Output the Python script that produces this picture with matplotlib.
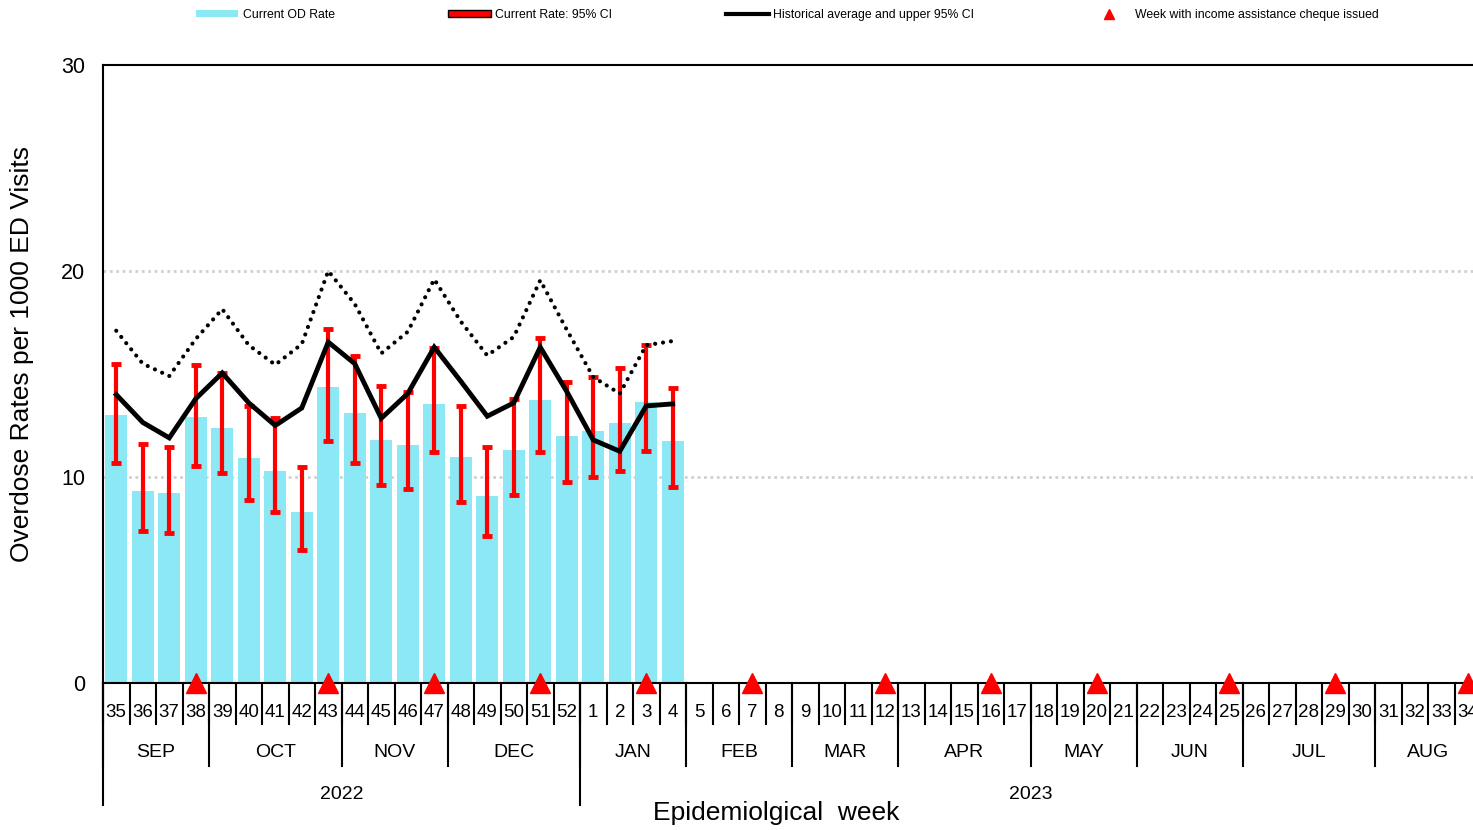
import numpy as np
import matplotlib
matplotlib.use('Agg')
from matplotlib import pyplot as plt
from matplotlib.patches import Patch
from matplotlib.lines import Line2D

plt.rcParams['font.family'] = ['Liberation Sans', 'DejaVu Sans']

# epidemiological weeks shown on the axis (Sep 2022 - Aug 2023)
weeks = list(range(35, 53)) + list(range(1, 35))
# current OD rate per 1000 ED visits (weeks 35..52, 1..4)
od_rate = [13.0, 9.3, 9.2, 12.9, 12.4, 10.9, 10.3, 8.3, 14.35, 13.1, 11.8, 11.55,
           13.55, 10.95, 9.1, 11.3, 13.75, 12.0, 12.25, 12.6, 13.65, 11.75]
ci_low = [10.7, 7.4, 7.3, 10.55, 10.2, 8.9, 8.3, 6.45, 11.75, 10.7, 9.6, 9.4,
          11.2, 8.8, 7.15, 9.15, 11.2, 9.75, 10.0, 10.3, 11.25, 9.5]
ci_high = [15.5, 11.6, 11.45, 15.45, 15.05, 13.45, 12.85, 10.5, 17.2, 15.85, 14.4, 14.15,
           16.25, 13.45, 11.45, 13.8, 16.75, 14.6, 14.85, 15.3, 16.4, 14.3]
# historical average and its upper 95% CI
hist_avg = [14.0, 12.65, 11.9, 13.8, 15.05, 13.6, 12.5, 13.35, 16.55, 15.5, 12.85, 14.05,
            16.3, 14.65, 12.95, 13.6, 16.3, 14.15, 11.8, 11.25, 13.45, 13.55]
hist_upper = [17.1, 15.5, 14.9, 16.7, 18.15, 16.4, 15.45, 16.45, 20.0, 18.4, 16.0, 17.05,
              19.6, 17.55, 15.9, 16.8, 19.55, 17.15, 14.85, 14.05, 16.4, 16.6]
# weeks with income assistance cheque issued
cheque_weeks = [38, 43, 47, 51, 3, 7, 12, 16, 20, 25, 29, 34]
# month groups: (label, number of weeks)
months = [('SEP', 4), ('OCT', 5), ('NOV', 4), ('DEC', 5), ('JAN', 4), ('FEB', 4),
          ('MAR', 4), ('APR', 5), ('MAY', 4), ('JUN', 4), ('JUL', 5), ('AUG', 4)]
years = [('2022', 18), ('2023', 34)]

W, H = 1473, 830
fig = plt.figure(figsize=(W / 100, H / 100), dpi=100)
ax = fig.add_axes([103 / W, 147 / H, 1370 / W, 618 / H])

n = len(od_rate)
x = np.arange(n)
od = np.array(od_rate)

ax.bar(x, od, width=0.82, color='#8be8f4', zorder=2)
ax.errorbar(x, od, yerr=[od - np.array(ci_low), np.array(ci_high) - od], fmt='none',
            ecolor='#ff0000', elinewidth=3, capsize=3.5, capthick=3.5, zorder=3)
ax.plot(x, hist_avg, color='black', lw=3.5, zorder=4, solid_joinstyle='miter')
ax.plot(x, hist_upper, color='black', lw=3, linestyle=(0, (0.01, 1.9)),
        dash_capstyle='round', zorder=4)

cx = [weeks.index(w) if w >= 35 else 18 + w - 1 for w in cheque_weeks]
ax.plot(cx, np.zeros(len(cx)), linestyle='none', marker='^', color='#ff0000',
        ms=14, clip_on=False, zorder=6)

ax.set_xlim(-0.5, -0.5 + 1370 / 26.5)
ax.set_ylim(0, 30)
ax.set_yticks([0, 10, 20, 30])
ax.tick_params(axis='y', length=0, pad=13, labelsize=15.5)
ax.set_xticks([])
for y in [10, 20]:
    ax.axhline(y, color='#d0d0d0', lw=2, linestyle=(0, (1, 1.3)), zorder=1)
for s in ['left', 'top', 'bottom']:
    ax.spines[s].set_linewidth(1.5)
ax.spines['right'].set_visible(False)

# category axis: weeks / months / years
tr = ax.get_xaxis_transform()
for i, w in enumerate(weeks):
    ax.text(i, -0.048, str(w), transform=tr, ha='center', va='center', fontsize=13.5)
    ax.plot([i - 0.5, i - 0.5], [0, -0.066], transform=tr, color='black', lw=1.5, clip_on=False)
start = 0
for name, k in months:
    ax.text(start + k / 2 - 0.5, -0.113, name, transform=tr, ha='center', va='center', fontsize=14)
    ax.plot([start - 0.5] * 2, [0, -0.134], transform=tr, color='black', lw=1.5, clip_on=False)
    start += k
start = 0
for name, k in years:
    ax.text(start + k / 2 - 0.5, -0.181, name, transform=tr, ha='center', va='center', fontsize=14)
    ax.plot([start - 0.5] * 2, [0, -0.197], transform=tr, color='black', lw=1.5, clip_on=False)
    start += k

fig.text(22 / W, 1 - 354 / H, 'Overdose Rates per 1000 ED Visits', rotation=90,
         ha='center', va='center', fontsize=19)
fig.text(776 / W, 1 - 813 / H, 'Epidemiolgical  week', ha='center', va='center', fontsize=19)

handles = [Patch(facecolor='#8be8f4', edgecolor='none'),
           Patch(facecolor='#ff0000', edgecolor='black', lw=1),
           Line2D([], [], color='black', lw=3),
           Line2D([], [], color='#ff0000', marker='^', linestyle='none', ms=7)]
labels = ['Current OD Rate', 'Current Rate: 95% CI',
          'Historical average and upper 95% CI', 'Week with income assistance cheque issued']
fig.legend(handles, labels, loc='center', bbox_to_anchor=(787 / W, 1 - 15 / H), ncol=4,
           frameon=False, fontsize=8.8, handlelength=3.5, handleheight=0.5,
           handletextpad=0.35, columnspacing=9.3)

fig.savefig('out.png', dpi=100)
